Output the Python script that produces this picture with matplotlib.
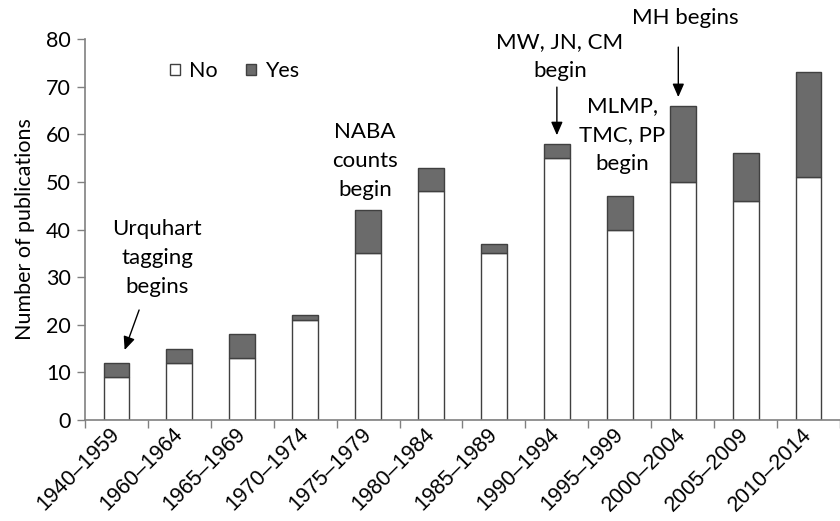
import matplotlib
matplotlib.use("Agg")
import matplotlib.pyplot as plt
import numpy as np
from matplotlib.patches import Patch

periods = ["1940\u20131959", "1960\u20131964", "1965\u20131969", "1970\u20131974",
           "1975\u20131979", "1980\u20131984", "1985\u20131989", "1990\u20131994",
           "1995\u20131999", "2000\u20132004", "2005\u20132009", "2010\u20132014"]
no_counts = [9, 12, 13, 21, 35, 48, 35, 55, 40, 50, 46, 51]
yes_counts = [3, 3, 5, 1, 9, 5, 2, 3, 7, 16, 10, 22]

label_font = "Lato"
tick_font = "Liberation Sans"
edge = "#404040"
grey = "#6b6b6b"
axis_col = "#808080"

fig = plt.figure(figsize=(8.4, 5.21), dpi=100)
ax = fig.add_axes([85 / 840, 101 / 521, 1 - 85 / 840, 381 / 521])

x = np.arange(len(periods))
ax.bar(x, no_counts, width=0.41, color="white", edgecolor=edge, linewidth=1.0, label="No")
ax.bar(x, yes_counts, width=0.41, bottom=no_counts, color=grey, edgecolor=edge,
       linewidth=1.0, label="Yes")

ax.set_ylim(0, 80)
ax.set_xlim(-0.5, 11.5 - 8 / 63.6)
ax.set_yticks(range(0, 81, 10))
ax.set_yticklabels([str(v) for v in range(0, 81, 10)], fontfamily=label_font, fontsize=15.5)
ax.set_xticks(x)
ax.set_xticklabels(periods, rotation=45, ha="right", va="center", rotation_mode="anchor",
                   fontfamily=tick_font, fontsize=15.5)
ax.tick_params(axis="x", length=0, pad=8)
ax.set_xticks(np.arange(-0.5, 12, 1), minor=True)
ax.tick_params(axis="x", which="minor", length=6, color=axis_col, width=1)
ax.tick_params(axis="y", length=6, color=axis_col, width=1, pad=4)

for side in ["top", "right"]:
    ax.spines[side].set_visible(False)
for side in ["left", "bottom"]:
    ax.spines[side].set_color(axis_col)
    ax.spines[side].set_linewidth(1.2)

ax.set_ylabel("Number of publications", fontfamily=label_font, fontsize=15.5, labelpad=8)

handles = [Patch(facecolor="white", edgecolor=edge, label="No"),
           Patch(facecolor=grey, edgecolor=edge, label="Yes")]
leg = ax.legend(handles=handles, loc="center left", bbox_to_anchor=(0.113, 0.916), ncol=2,
                frameon=False, handlelength=0.45, handleheight=0.45, handletextpad=0.4,
                columnspacing=1.35, borderpad=0, borderaxespad=0,
                prop={"family": label_font, "size": 15.5})

txt = dict(ha="center", va="center", fontfamily=label_font, fontsize=16, linespacing=1.55)
arrow = dict(arrowstyle="-|>,head_length=0.8,head_width=0.35", color="black", lw=1.0,
             shrinkA=0, shrinkB=0)

ax.text(0.65, 34.0, "Urquhart\ntagging\nbegins", **txt)
ax.annotate("", xy=(0.13, 14.7), xytext=(0.36, 23.1), arrowprops=arrow)

ax.text(3.95, 54.4, "NABA\ncounts\nbegin", **txt)

ax.text(7.05, 76.4, "MW, JN, CM\nbegin", **txt)
ax.annotate("", xy=(7.0, 59.8), xytext=(7.0, 69.9), arrowprops=arrow)

ax.text(8.04, 59.8, "MLMP,\nTMC, PP\nbegin", **txt)

ax.text(9.04, 84.4, "MH begins", **txt, clip_on=False)
ax.annotate("", xy=(8.93, 67.8), xytext=(8.93, 78.3), arrowprops=arrow,
            annotation_clip=False)

fig.savefig("out.png", dpi=100)
